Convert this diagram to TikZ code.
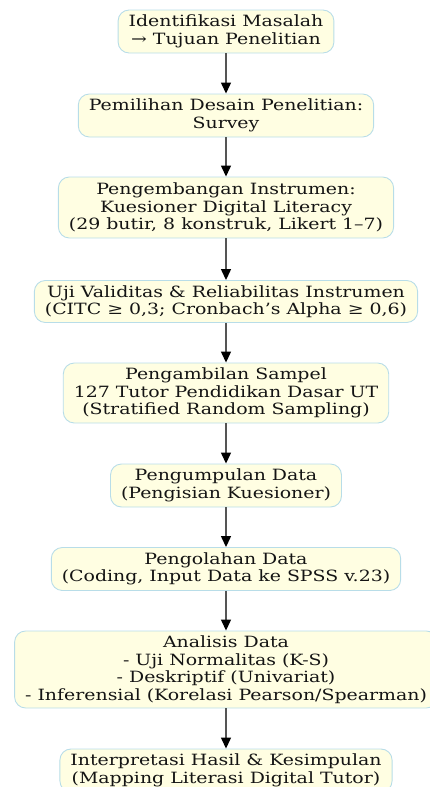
\documentclass[tikz,border=0pt]{standalone}
\usepackage{fontspec}
\setmainfont{DejaVu Serif}[FakeStretch=1.22]
\usetikzlibrary{positioning, arrows.meta}
\definecolor{boxfill}{HTML}{FFFEE2}
\definecolor{boxline}{HTML}{B8DDE8}
\definecolor{flowgray}{HTML}{555555}

\begin{document}
\begin{tikzpicture}[x=1pt, y=1pt,
    stepbox/.style={draw=boxline, fill=boxfill, line width=0.9pt, rounded corners=11pt,
      align=center, text=black!92, inner xsep=10.5pt, inner ysep=2pt,
      font=\fontsize{15.5}{17.5}\selectfont},
    flow/.style={draw=flowgray, line width=1.3pt, -{Triangle[length=11pt, width=10pt, color=black]}}]
  \useasboundingbox (0,0) rectangle (429,-787);

  \node (masalah) at (226,-31.5) [stepbox, minimum height=43] {Identifikasi Masalah\\→ Tujuan Penelitian};
  \node (desain) at (226,-115.5) [stepbox, minimum height=43] {Pemilihan Desain Penelitian:\\Survey};
  \node (instrumen) at (226,-207.5) [stepbox, minimum height=61] {Pengembangan Instrumen:\\Kuesioner Digital Literacy\\(29 butir, 8 konstruk, Likert 1--7)};
  \node (uji) at (226,-301.5) [stepbox, minimum height=42] {Uji Validitas \& Reliabilitas Instrumen\\(CITC ≥ 0,3; Cronbach’s Alpha ≥ 0,6)};
  \node (sampel) at (226,-393) [stepbox, minimum height=60] {Pengambilan Sampel\\127 Tutor Pendidikan Dasar UT\\(Stratified Random Sampling)};
  \node (kumpul) at (226,-485.5) [stepbox, minimum height=43] {Pengumpulan Data\\(Pengisian Kuesioner)};
  \node (olah) at (226,-569) [stepbox, minimum height=43] {Pengolahan Data\\(Coding, Input Data ke SPSS v.23)};
  \node (analisis) at (226,-669.5) [stepbox, minimum height=77] {Analisis Data\\- Uji Normalitas (K-S)\\- Deskriptif (Univariat)\\- Inferensial (Korelasi Pearson/Spearman)};
  \node (hasil) at (226,-770.5) [stepbox, minimum height=43] {Interpretasi Hasil \& Kesimpulan\\(Mapping Literasi Digital Tutor)};

  \draw [flow] (masalah) -- (desain);
  \draw [flow] (desain) -- (instrumen);
  \draw [flow] (instrumen) -- (uji);
  \draw [flow] (uji) -- (sampel);
  \draw [flow] (sampel) -- (kumpul);
  \draw [flow] (kumpul) -- (olah);
  \draw [flow] (olah) -- (analisis);
  \draw [flow] (analisis) -- (hasil);
\end{tikzpicture}
\end{document}
